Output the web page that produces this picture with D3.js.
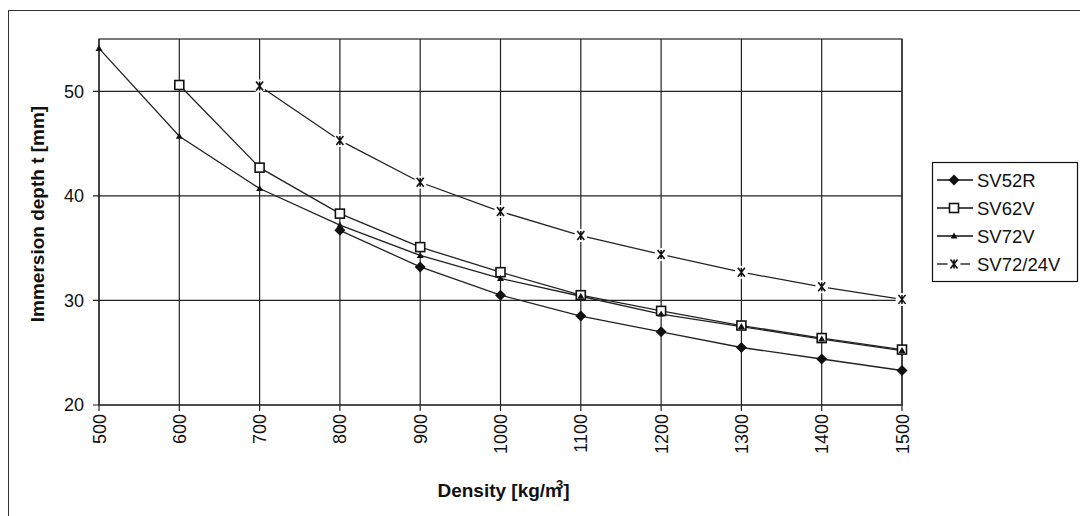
<!doctype html>
<html>
<head>
<meta charset="UTF-8">
<script src="https://d3js.org/d3.v7.min.js"></script>
<style>
  body { margin: 0; background: #fff; }
  text { font-family: "Liberation Sans", Arial, sans-serif; fill: #111; }
</style>
</head>
<body>
<svg id="chart"></svg>
<script>
// density values (x) and series values (immersion depth, mm)
const densities = [500, 600, 700, 800, 900, 1000, 1100, 1200, 1300, 1400, 1500];
const sv52r   = [null, null, null, 36.7, 33.2, 30.5, 28.5, 27.0, 25.5, 24.4, 23.3];
const sv62v   = [null, 50.6, 42.7, 38.3, 35.1, 32.7, 30.5, 29.0, 27.6, 26.4, 25.3];
const sv72v   = [54.1, 45.7, 40.7, 37.2, 34.3, 32.1, 30.4, 28.7, 27.5, 26.3, 25.2];
const sv7224v = [null, null, 50.5, 45.3, 41.3, 38.5, 36.2, 34.4, 32.7, 31.3, 30.1];
const seriesNames = ["SV52R", "SV62V", "SV72V", "SV72/24V"];
const yTicks = [20, 30, 40, 50];

(function(){
  const W = 1080, H = 516;
  const margin = {top: 39, left: 99};
  const width = 803, height = 366;

  const svg = d3.select("#chart").attr("width", W).attr("height", H);

  // outer frame
  svg.append("rect")
     .attr("x", 8.5).attr("y", 10.5)
     .attr("width", W).attr("height", H)
     .attr("fill", "none").attr("stroke", "#333").attr("stroke-width", 1);

  const x = d3.scaleLinear().domain([500, 1500]).range([0, width]);
  const y = d3.scaleLinear().domain([20, 55]).range([height, 0]);

  const g = svg.append("g").attr("transform", "translate(" + margin.left + "," + margin.top + ")");

  // grid
  g.selectAll(".vgrid").data(densities).enter().append("line")
     .attr("x1", d => x(d)).attr("x2", d => x(d))
     .attr("y1", 0).attr("y2", height + 6)
     .attr("stroke", "#222").attr("stroke-width", 1.2);
  g.selectAll(".hgrid").data(yTicks).enter().append("line")
     .attr("x1", -6).attr("x2", width)
     .attr("y1", d => y(d)).attr("y2", d => y(d))
     .attr("stroke", "#222").attr("stroke-width", 1.2);
  g.append("rect").attr("width", width).attr("height", height)
     .attr("fill", "none").attr("stroke", "#222").attr("stroke-width", 1.2);

  // axes labels
  const yAxis = d3.axisLeft(y).tickValues(yTicks).tickSize(0).tickPadding(15);
  g.append("g").call(yAxis).call(s => s.select(".domain").remove())
     .selectAll("text").style("font-size", "18px").attr("fill", "#111")
     .style("font-family", "Liberation Sans, Arial, sans-serif");

  g.selectAll(".xlab").data(densities).enter().append("text")
     .attr("transform", d => "translate(" + (x(d) + 6.5) + "," + (height + 9) + ") rotate(-90)")
     .attr("text-anchor", "end")
     .style("font-size", "18px")
     .text(d => d);

  svg.append("text")
     .attr("transform", "translate(44," + (margin.top + 175) + ") rotate(-90)")
     .attr("text-anchor", "middle")
     .style("font-size", "19px").style("font-weight", "bold")
     .text("Immersion depth t [mm]");

  const xt = svg.append("text")
     .attr("x", margin.left + width / 2 + 3).attr("y", 497)
     .attr("text-anchor", "middle")
     .style("font-size", "19px").style("font-weight", "bold");
  xt.append("tspan").text("Density [kg/m");
  xt.append("tspan").attr("dx", -6).attr("dy", -8).style("font-size", "13px").text("3");
  xt.append("tspan").attr("dy", 8).text("]");

  // markers
  function drawMarker(sel, type) {
    if (type === 0) {
      sel.append("path").attr("d", "M0,-5.5L5.5,0L0,5.5L-5.5,0Z").attr("fill", "#111");
    } else if (type === 1) {
      sel.append("rect").attr("x", -4.5).attr("y", -4.5).attr("width", 9).attr("height", 9)
         .attr("fill", "#fff").attr("stroke", "#111").attr("stroke-width", 1.6);
    } else if (type === 2) {
      sel.append("path").attr("d", "M0,-3.5L3.5,2.5L-3.5,2.5Z").attr("fill", "#111");
    } else {
      sel.append("circle").attr("r", 6.5).attr("fill", "#fff");
      sel.append("path").attr("d", "M-3.5,-4.5L3.5,4.5M3.5,-4.5L-3.5,4.5M0,-4.5L0,4.5")
         .attr("stroke", "#111").attr("stroke-width", 1.6).attr("fill", "none");
    }
  }

  const allSeries = [sv52r, sv62v, sv72v, sv7224v];
  const line = d3.line()
     .defined(d => d[1] !== null)
     .x(d => x(d[0])).y(d => y(d[1]));

  allSeries.forEach((vals, i) => {
    const pts = densities.map((d, j) => [d, vals[j]]);
    g.append("path").datum(pts)
       .attr("d", line)
       .attr("fill", "none").attr("stroke", "#222").attr("stroke-width", 1.3);
  });
  allSeries.forEach((vals, i) => {
    const pts = densities.map((d, j) => [d, vals[j]]).filter(p => p[1] !== null);
    g.selectAll(".m" + i).data(pts).enter().append("g")
       .attr("transform", d => "translate(" + x(d[0]) + "," + y(d[1]) + ")")
       .each(function(){ drawMarker(d3.select(this), i); });
  });

  // legend
  const lg = svg.append("g").attr("transform", "translate(932,162)");
  lg.append("rect").attr("x", 0.5).attr("y", 0.5).attr("width", 145).attr("height", 119)
     .attr("fill", "#fff").attr("stroke", "#111").attr("stroke-width", 1.2);
  seriesNames.forEach((name, i) => {
    const row = lg.append("g").attr("transform", "translate(0," + (18 + i * 28) + ")");
    if (i === 3) {
      row.append("line").attr("x1", 5).attr("x2", 16).attr("stroke", "#111").attr("stroke-width", 1.3);
      row.append("line").attr("x1", 26).attr("x2", 38).attr("stroke", "#111").attr("stroke-width", 1.3);
    } else {
      row.append("line").attr("x1", 5).attr("x2", 41).attr("stroke", "#111").attr("stroke-width", 1.3);
    }
    const m = row.append("g").attr("transform", "translate(22,0)");
    drawMarker(m, i);
    row.append("text").attr("x", 45).attr("y", 7).style("font-size", "18.5px").text(name);
  });
})();
</script>
</body>
</html>
